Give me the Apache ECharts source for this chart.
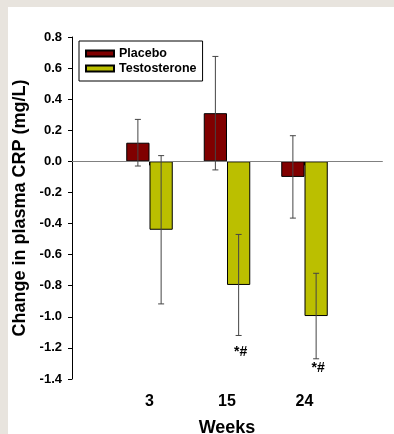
<!DOCTYPE html>
<html>
<head>
<meta charset="utf-8">
<script src="https://cdn.jsdelivr.net/npm/echarts@6/dist/echarts.min.js"></script>
<style>
  html, body { margin: 0; padding: 0; background: #fff; overflow: hidden; }
  .frame { position: absolute; background: #e8e4de; }
  #chart { position: absolute; left: 0; top: 0; width: 394px; height: 434px; }
</style>
</head>
<body>
<div class="frame" style="left:0;top:0;width:394px;height:7px"></div>
<div class="frame" style="left:0;top:0;width:8px;height:434px"></div>
<div id="chart"></div>
<script>
const weeks = ['3', '15', '24'];
const placebo = [0.12, 0.31, -0.10];
const placeboErr = [0.15, 0.365, 0.265];
const testosterone = [-0.44, -0.795, -0.995];
const testosteroneErr = [0.477, 0.325, 0.275];
const marks = ['', '*#', '*#'];
const markY = [null, -1.23, -1.33];

const font = 'Liberation Sans, Arial, sans-serif';

// blank slots on each side so the three weeks sit at the inner ticks
const cats = [''].concat(weeks, ['']);
const pad = arr => ['-'].concat(arr, ['-']);

const errData = [];
weeks.forEach((w, i) => {
  errData.push([i + 1, placebo[i], placeboErr[i], -1]);
  errData.push([i + 1, testosterone[i], testosteroneErr[i], 1]);
});
const markData = [];
weeks.forEach((w, i) => {
  if (marks[i]) markData.push([i + 1, markY[i], marks[i]]);
});

const chart = echarts.init(document.getElementById('chart'));
chart.setOption({
  animation: false,
  grid: { left: 72, right: 12, top: 37, bottom: 55, outerBoundsMode: 'none' },
  legend: {
    orient: 'vertical',
    left: 79,
    top: 41,
    backgroundColor: '#fff',
    borderColor: '#000',
    borderWidth: 1,
    borderRadius: 0,
    padding: [6, 6, 6, 6],
    itemWidth: 28,
    itemHeight: 6,
    itemGap: 2,
    data: [{ name: 'Placebo', icon: 'rect' }, { name: 'Testosterone', icon: 'rect' }],
    textStyle: { fontFamily: font, fontWeight: 'bold', fontSize: 12.5, color: '#000', lineHeight: 13 }
  },
  xAxis: {
    type: 'category',
    data: cats,
    boundaryGap: false,
    name: 'Weeks',
    nameLocation: 'middle',
    nameGap: 40,
    nameTextStyle: { fontFamily: font, fontWeight: 'bold', fontSize: 18, color: '#000' },
    axisLine: { lineStyle: { color: '#000', width: 1 } },
    axisTick: { length: 4, interval: idx => idx > 0 && idx < cats.length - 1, lineStyle: { color: '#000' } },
    axisLabel: { interval: 0, margin: 15, fontFamily: font, fontWeight: 'bold', fontSize: 16, color: '#000' },
    splitLine: { show: false }
  },
  yAxis: {
    type: 'value',
    min: -1.4,
    max: 0.8,
    interval: 0.2,
    name: 'Change in plasma CRP (mg/L)',
    nameLocation: 'middle',
    nameGap: 41,
    nameTextStyle: { fontFamily: font, fontWeight: 'bold', fontSize: 18, color: '#000' },
    axisLine: { show: true, lineStyle: { color: '#000', width: 1 } },
    axisTick: { show: true, length: 4, lineStyle: { color: '#000' } },
    axisLabel: {
      margin: 10,
      fontFamily: font, fontWeight: 'bold', fontSize: 13, color: '#000',
      formatter: v => v.toFixed(1)
    },
    splitLine: { show: false }
  },
  series: [
    {
      name: 'Placebo',
      type: 'bar',
      data: pad(placebo),
      barWidth: '30%',
      barGap: 0,
      itemStyle: { color: '#800000', borderColor: '#000', borderWidth: 1 },
      markLine: {
        silent: true,
        symbol: 'none',
        label: { show: false },
        lineStyle: { color: '#808080', width: 1, type: 'solid' },
        data: [{ yAxis: 0 }]
      }
    },
    {
      name: 'Testosterone',
      type: 'bar',
      data: pad(testosterone),
      barWidth: '30%',
      barGap: 0,
      itemStyle: { color: '#bbbf00', borderColor: '#000', borderWidth: 1 }
    },
    {
      type: 'custom',
      data: errData,
      silent: true,
      z: 5,
      renderItem: (params, api) => {
        const band = api.size([1, 0])[0];
        const cx = api.coord([api.value(0), 0])[0] + api.value(3) * band * 0.15;
        const top = api.coord([api.value(0), api.value(1) + api.value(2)])[1];
        const bot = api.coord([api.value(0), api.value(1) - api.value(2)])[1];
        const style = { stroke: '#454545', lineWidth: 1 };
        return {
          type: 'group',
          children: [
            { type: 'line', shape: { x1: cx, y1: top, x2: cx, y2: bot }, style },
            { type: 'line', shape: { x1: cx - 3, y1: top, x2: cx + 3, y2: top }, style },
            { type: 'line', shape: { x1: cx - 3, y1: bot, x2: cx + 3, y2: bot }, style }
          ]
        };
      }
    },
    {
      type: 'custom',
      data: markData,
      silent: true,
      z: 5,
      renderItem: (params, api) => {
        const band = api.size([1, 0])[0];
        const p = api.coord([api.value(0), api.value(1)]);
        return {
          type: 'text',
          style: {
            x: p[0] + band * 0.15 + 2,
            y: p[1],
            text: markData[params.dataIndex][2],
            align: 'center',
            verticalAlign: 'middle',
            font: 'bold 14px ' + font,
            fill: '#000'
          }
        };
      }
    }
  ]
});
</script>
</body>
</html>
